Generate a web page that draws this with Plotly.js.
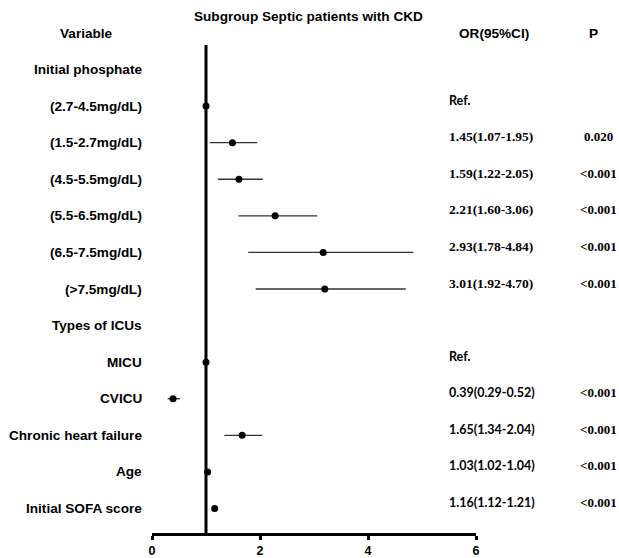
<!DOCTYPE html>
<html>
<head>
<meta charset="utf-8">
<script src="https://cdn.plot.ly/plotly-3.0.1.min.js"></script>
<style>html,body{margin:0;padding:0;background:#fff;}#chart{width:619px;height:558px;}</style>
</head>
<body>
<div id="chart"></div>
<script>
// ---- data ----
const titleText = 'Subgroup Septic patients with CKD';
const headerVariable = 'Variable';
const headerOR = 'OR(95%CI)';
const headerP = 'P';
const rowLabels = ['Initial phosphate','(2.7-4.5mg/dL)','(1.5-2.7mg/dL)','(4.5-5.5mg/dL)','(5.5-6.5mg/dL)','(6.5-7.5mg/dL)','(>7.5mg/dL)','Types of ICUs','MICU','CVICU','Chronic heart failure','Age','Initial SOFA score'];
const pointOR = [null, 1, 1.49, 1.61, 2.28, 3.17, 3.20, null, 1, 0.39, 1.67, 1.03, 1.16];
const ciLow  = [null, null, 1.07, 1.22, 1.60, 1.78, 1.92, null, null, 0.29, 1.34, 1.02, 1.12];
const ciHigh = [null, null, 1.95, 2.05, 3.06, 4.84, 4.70, null, null, 0.52, 2.04, 1.04, 1.21];
const orText = ['', 'Ref.', '1.45(1.07-1.95)', '1.59(1.22-2.05)', '2.21(1.60-3.06)', '2.93(1.78-4.84)', '3.01(1.92-4.70)', '', 'Ref.', '0.39(0.29-0.52)', '1.65(1.34-2.04)', '1.03(1.02-1.04)', '1.16(1.12-1.21)'];
const pText = ['', '', '0.020', '<0.001', '<0.001', '<0.001', '<0.001', '', '', '<0.001', '<0.001', '<0.001', '<0.001'];
const xTicks = [0, 2, 4, 6];
const refLine = 1;

// ---- style ----
const sansFont = 'Liberation Sans, Arial, sans-serif';
const serifFont = 'Liberation Serif, Times New Roman, serif';
const calibriLike = 'Lato, Carlito, sans-serif';
const serifOrRows = [3, 4, 5, 6, 7]; // row positions drawn with serif OR text

const rowPos = rowLabels.map((_, i) => i + 1);
const errPlus = ciHigh.map((h, i) => (h == null || pointOR[i] == null) ? 0 : h - pointOR[i]);
const errMinus = ciLow.map((l, i) => (l == null || pointOR[i] == null) ? 0 : pointOR[i] - l);

const trace = {
  type: 'scatter', mode: 'markers',
  x: pointOR, y: rowPos,
  marker: {color: '#000', size: 7},
  error_x: {type: 'data', symmetric: false, array: errPlus, arrayminus: errMinus,
            color: '#333', thickness: 1.3, width: 0},
  hoverinfo: 'skip', showlegend: false, cliponaxis: false
};

const labelFont = {family: sansFont, size: 13.6, color: '#000'};
const ann = [];
ann.push({text: '<b>' + titleText + '</b>', xref: 'paper', yref: 'paper', x: 0, xshift: 156, y: 1, yshift: 29,
          xanchor: 'center', yanchor: 'middle', showarrow: false, font: labelFont});
ann.push({text: '<b>' + headerVariable + '</b>', xref: 'paper', yref: 'paper', x: 0, xshift: -65.5, y: 1, yshift: 12,
          xanchor: 'center', yanchor: 'middle', showarrow: false, font: labelFont});
ann.push({text: '<b>' + headerOR + '</b>', xref: 'paper', yref: 'paper', x: 1, xshift: 18, y: 1, yshift: 12,
          xanchor: 'center', yanchor: 'middle', showarrow: false, font: labelFont});
ann.push({text: '<b>' + headerP + '</b>', xref: 'paper', yref: 'paper', x: 1, xshift: 117, y: 1, yshift: 12,
          xanchor: 'center', yanchor: 'middle', showarrow: false, font: labelFont});

rowLabels.forEach((lab, i) => {
  ann.push({text: '<b>' + lab + '</b>', xref: 'paper', yref: 'y', x: 0, xshift: -8, y: rowPos[i],
            xanchor: 'right', yanchor: 'middle', showarrow: false, font: labelFont});
  if (orText[i]) {
    const serif = serifOrRows.includes(rowPos[i]);
    ann.push({text: '<b>' + orText[i] + '</b>', xref: 'paper', yref: 'y', x: 1, xshift: -29, y: rowPos[i], yshift: 6,
              xanchor: 'left', yanchor: 'middle', showarrow: false,
              font: {family: serif ? serifFont : calibriLike, size: serif ? 13.5 : 12.5, color: '#000', weight: 'bold'}});
  }
  if (pText[i]) {
    ann.push({text: '<b>' + pText[i].replace('<', '&lt;') + '</b>', xref: 'paper', yref: 'y', x: 1, xshift: 122, y: rowPos[i], yshift: 6,
              xanchor: 'center', yanchor: 'middle', showarrow: false, font: {family: serifFont, size: 13, color: '#000'}});
  }
});

const layout = {
  width: 619, height: 558,
  margin: {l: 152, r: 143, t: 45, b: 25, pad: 0},
  paper_bgcolor: '#fff', plot_bgcolor: '#fff',
  showlegend: false,
  xaxis: {range: [0, 6], tickvals: xTicks, ticktext: xTicks.map(v => '<b>' + v + '</b>'),
          showline: true, linewidth: 3, linecolor: '#000', ticks: 'outside', ticklen: 4, tickwidth: 3, tickcolor: '#000',
          showgrid: false, zeroline: false, automargin: false,
          tickfont: {family: sansFont, size: 12.5, color: '#000'}},
  yaxis: {range: [13.67, 0.33], showticklabels: false, showline: false, showgrid: false, zeroline: false, ticks: '', automargin: false},
  shapes: [{type: 'line', xref: 'x', yref: 'paper', x0: refLine, x1: refLine, y0: 0, y1: 1,
            line: {color: '#000', width: 3}, layer: 'below'}],
  annotations: ann
};

Plotly.newPlot('chart', [trace], layout, {staticPlot: true, displayModeBar: false});
</script>
</body>
</html>
